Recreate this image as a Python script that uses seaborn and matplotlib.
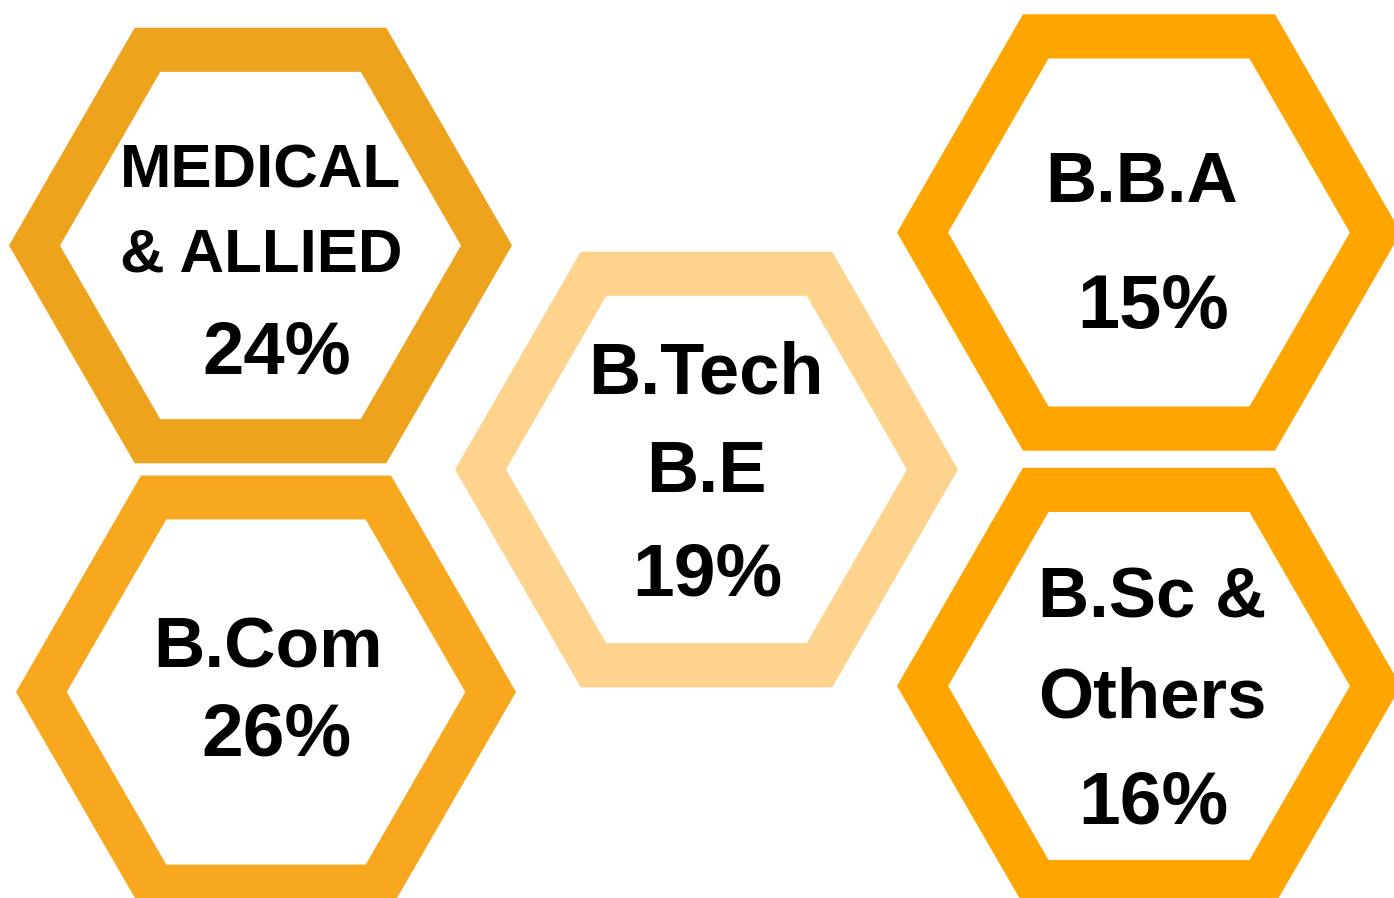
import matplotlib
matplotlib.use("Agg")
import matplotlib.pyplot as plt
from matplotlib.patches import Polygon
import numpy as np
import seaborn as sns

# ---- data ----
categories = ["MEDICAL\n& ALLIED", "B.Tech\nB.E", "B.B.A", "B.Com", "B.Sc &\nOthers"]
shares = [24, 19, 15, 26, 16]

# ---- layout (pixel coords, y down) ----
centers = [(260.5, 245.5), (706.5, 469.5), (1149, 232.5), (266, 692), (1149, 686)]
radii = [251.5, 251.5, 252, 250, 252]
inner_ratio = 200.5 / 251.5
colors = ["#EEA31C", "#FDD38D", "#FFA500", "#F7A81E", "#FFA500"]
# baselines of label lines and percentage, and x of each
label_lines_y = [[187, 272], [393, 492], [202], [667], [618, 717]]
label_x = [261, 706, 1142, 268, 1152]
pct_y = [373, 596, 328, 756, 823]
pct_x = [277, 707, 1153, 277, 1153]
label_sizes = [44.5, 52, 51, 51.3, 51]
pct_sizes = [53.5, 54, 54.5, 54, 54]

sns.set_theme(style="white")
plt.rcParams['font.family'] = ['Liberation Sans', 'DejaVu Sans']

fig = plt.figure(figsize=(13.94, 8.98), dpi=100)
ax = fig.add_axes([0, 0, 1, 1])
ax.set_xlim(0, 1394)
ax.set_ylim(898, 0)
ax.axis("off")


def hexagon(cx, cy, r):
    ang = np.deg2rad(np.arange(0, 360, 60))
    return np.column_stack([cx + r * np.cos(ang), cy + r * np.sin(ang)])


for i, cat in enumerate(categories):
    cx, cy = centers[i]
    r = radii[i]
    ax.add_patch(Polygon(hexagon(cx, cy, r), closed=True, facecolor=colors[i],
                         edgecolor="none", zorder=1))
    ax.add_patch(Polygon(hexagon(cx, cy, r * inner_ratio), closed=True,
                         facecolor="white", edgecolor="none", zorder=2))
    for line, y in zip(cat.split("\n"), label_lines_y[i]):
        ax.text(label_x[i], y, line, ha="center", va="baseline",
                fontsize=label_sizes[i], fontweight="bold", color="black", zorder=3)
    ax.text(pct_x[i], pct_y[i], f"{shares[i]}%", ha="center", va="baseline",
            fontsize=pct_sizes[i], fontweight="bold", color="black", zorder=3)

fig.savefig("out.png", dpi=100, facecolor="white")
